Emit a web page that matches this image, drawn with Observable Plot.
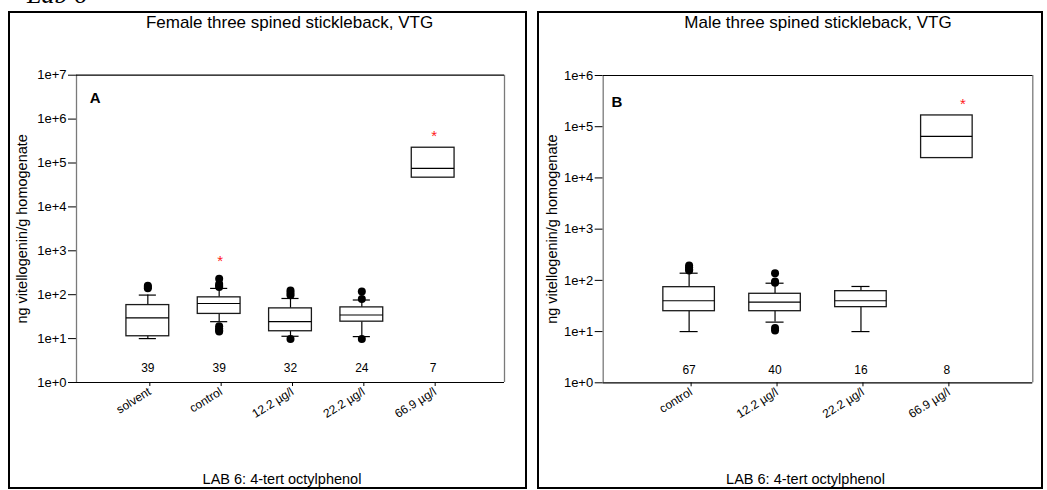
<!DOCTYPE html>
<html><head><meta charset="utf-8">
<script src="https://cdn.jsdelivr.net/npm/d3@7"></script>
<script src="https://cdn.jsdelivr.net/npm/@observablehq/plot@0.6"></script>
<style>
body{margin:0;background:#fff;font-family:"Liberation Sans",Arial,sans-serif;}
#page{position:relative;width:1047px;height:490px;overflow:hidden;background:#fff;}
.panel{position:absolute;border:2px solid #000;box-sizing:border-box;}
.txt{position:absolute;font-size:14.5px;line-height:16px;white-space:nowrap;transform:translateX(-50%);color:#000;}
.ttl{font-size:17px;line-height:18px;}
.wrap{position:absolute;}
#lab{position:absolute;left:27px;top:-18px;font-family:"Liberation Serif","Times New Roman",serif;font-style:italic;font-size:26px;line-height:26px;white-space:nowrap;}
</style></head>
<body>
<div id="page">
  <div id="lab">Lab 6</div>
  <div class="panel" style="left:8px;top:11px;width:519px;height:478px;"></div>
  <div class="panel" style="left:537px;top:11px;width:506px;height:478px;"></div>
  <div class="txt ttl" style="left:289.5px;top:13.5px;">Female three spined stickleback, VTG</div>
  <div class="txt ttl" style="left:818px;top:13.5px;">Male three spined stickleback, VTG</div>
  <div class="txt" style="left:282px;top:471px;">LAB 6: 4-tert octylphenol</div>
  <div class="txt" style="left:805.5px;top:471px;">LAB 6: 4-tert octylphenol</div>
  <div class="wrap" id="left" style="left:10px;top:13px;width:515px;height:474px;"></div>
  <div class="wrap" id="right" style="left:539px;top:13px;width:502px;height:474px;"></div>
</div>
<script>
// ---- Panel A: female ----
const femaleCategories = ["solvent", "control", "12.2 µg/l", "22.2 µg/l", "66.9 µg/l"];
const femaleQ1 = [11.3, 36.5, 14.7, 24.3, 46300];
const femaleMedian = [29.5, 63, 24.3, 34.5, 75700];
const femaleQ3 = [58, 87, 48.8, 51.4, 222800];
const femaleWhiskerLow = [10, 24.3, 11.3, 11.1, null];
const femaleWhiskerHigh = [98, 139, 82, 75.7, null];
const femaleOutliers = [[140, 150, 160], [230, 175, 160, 150, 19, 17, 15.5, 14.5], [125, 110, 97, 9.8], [119, 80, 9.8], []];
const femaleN = [39, 39, 32, 24, 7];
const femaleStars = [null, 730, null, null, 500000];
const femaleTicks = [1, 10, 100, 1e3, 1e4, 1e5, 1e6, 1e7];

// ---- Panel B: male ----
const maleCategories = ["control", "12.2 µg/l", "22.2 µg/l", "66.9 µg/l"];
const maleQ1 = [25, 25, 30, 24400];
const maleMedian = [40, 37.5, 40, 64800];
const maleQ3 = [73.6, 54.7, 61.5, 166000];
const maleWhiskerLow = [10, 15.3, 10, null];
const maleWhiskerHigh = [138, 88, 76, null];
const maleOutliers = [[195, 180, 165, 155], [138, 95, 90, 11.8, 10.5], [], []];
const maleN = [67, 40, 16, 8];
const maleStars = [null, null, null, 337000];
const maleTicks = [1, 10, 100, 1e3, 1e4, 1e5, 1e6];

const yLabel = "ng vitellogenin/g homogenate";

function boxPlot(o) {
  const rows = o.categories.map((c, i) => ({
    c, x: i + 1, q1: o.q1[i], med: o.median[i], q3: o.q3[i],
    lo: o.lo[i], hi: o.hi[i], n: o.n[i], star: o.stars[i]
  }));
  const pts = o.outliers.flatMap((arr, i) => arr.map(v => ({x: i + 1, v})));
  const whisk = rows.filter(d => d.lo != null);
  const starRows = rows.filter(d => d.star != null);
  const xmax = o.categories.length + 1;
  const ydom = [o.ticks[0], o.ticks[o.ticks.length - 1]];
  const hw = 0.3, cap = o.capHalf;
  return Plot.plot({
    width: o.width, height: o.height,
    marginLeft: o.ml, marginRight: o.mr, marginTop: o.mt, marginBottom: o.mb,
    style: {background: "transparent", fontFamily: "'Liberation Sans', Arial, sans-serif", fontSize: "12px", color: "#000", overflow: "visible"},
    x: {type: "linear", domain: [0, xmax], axis: null},
    y: {type: "log", domain: ydom, axis: null},
    marks: [
      Plot.axisY({ticks: o.ticks, tickFormat: d => "1e+" + Math.round(Math.log10(d)), tickSize: 8, tickPadding: 2, fontSize: 13, label: null}),
      Plot.axisX({ticks: rows.map(d => d.x), tickFormat: d => o.categories[Math.round(d) - 1], tickSize: 4, tickRotate: -32, tickPadding: 4, dx: 2, fontSize: 12, label: null}),
      Plot.ruleX([0, xmax], {stroke: "#7a7a7a", strokeWidth: 1.3}),
      Plot.ruleY(ydom, {stroke: "#000", strokeWidth: 1.2}),
      Plot.ruleX(whisk, {x: "x", y1: "q3", y2: "hi", stroke: "#000", strokeWidth: 1.2}),
      Plot.ruleX(whisk, {x: "x", y1: "lo", y2: "q1", stroke: "#000", strokeWidth: 1.2}),
      Plot.ruleY(whisk, {y: "hi", x1: d => d.x - cap, x2: d => d.x + cap, stroke: "#000", strokeWidth: 1.2}),
      Plot.ruleY(whisk, {y: "lo", x1: d => d.x - cap, x2: d => d.x + cap, stroke: "#000", strokeWidth: 1.2}),
      Plot.rect(rows, {x1: d => d.x - hw, x2: d => d.x + hw, y1: "q1", y2: "q3", fill: "white", stroke: "#1a1a1a", strokeWidth: 1.3}),
      Plot.ruleY(rows, {y: "med", x1: d => d.x - hw, x2: d => d.x + hw, stroke: "#000", strokeWidth: 1.2}),
      Plot.dot(pts, {x: "x", y: "v", r: 4, fill: "#000", stroke: "none"}),
      Plot.text(rows, {x: "x", text: d => String(d.n), frameAnchor: "bottom", dy: o.nDy, fontSize: 12}),
      Plot.text(starRows, {x: "x", y: "star", text: () => "*", fill: "#ff1a1a", fontSize: 15, dx: o.starDx, dy: 4}),
      Plot.text([o.letter], {text: d => d, frameAnchor: "top-left", textAnchor: "start", dx: o.letterDx, dy: o.letterDy, fontWeight: "bold", fontSize: 15}),
      Plot.text([yLabel], {text: d => d, frameAnchor: "left", textAnchor: "middle", rotate: -90, dx: o.ylabDx, fontSize: 14.5})
    ]
  });
}

document.getElementById("left").append(boxPlot({
  categories: femaleCategories, q1: femaleQ1, median: femaleMedian, q3: femaleQ3,
  lo: femaleWhiskerLow, hi: femaleWhiskerHigh, outliers: femaleOutliers, n: femaleN,
  stars: femaleStars, ticks: femaleTicks,
  width: 515, height: 474, ml: 66, mr: 21, mt: 61.7, mb: 105,
  capHalf: 0.12, starDx: 1, letter: "A", letterDx: 13.3, letterDy: 17.6, ylabDx: -54, nDy: -10.3
}));

document.getElementById("right").append(boxPlot({
  categories: maleCategories, q1: maleQ1, median: maleMedian, q3: maleQ3,
  lo: maleWhiskerLow, hi: maleWhiskerHigh, outliers: maleOutliers, n: maleN,
  stars: maleStars, ticks: maleTicks,
  width: 502, height: 474, ml: 63.7, mr: 8.7, mt: 62, mb: 104.7,
  capHalf: 0.105, starDx: 16, letter: "B", letterDx: 8.3, letterDy: 21, ylabDx: -51, nDy: -9
}));
</script>
</body></html>
